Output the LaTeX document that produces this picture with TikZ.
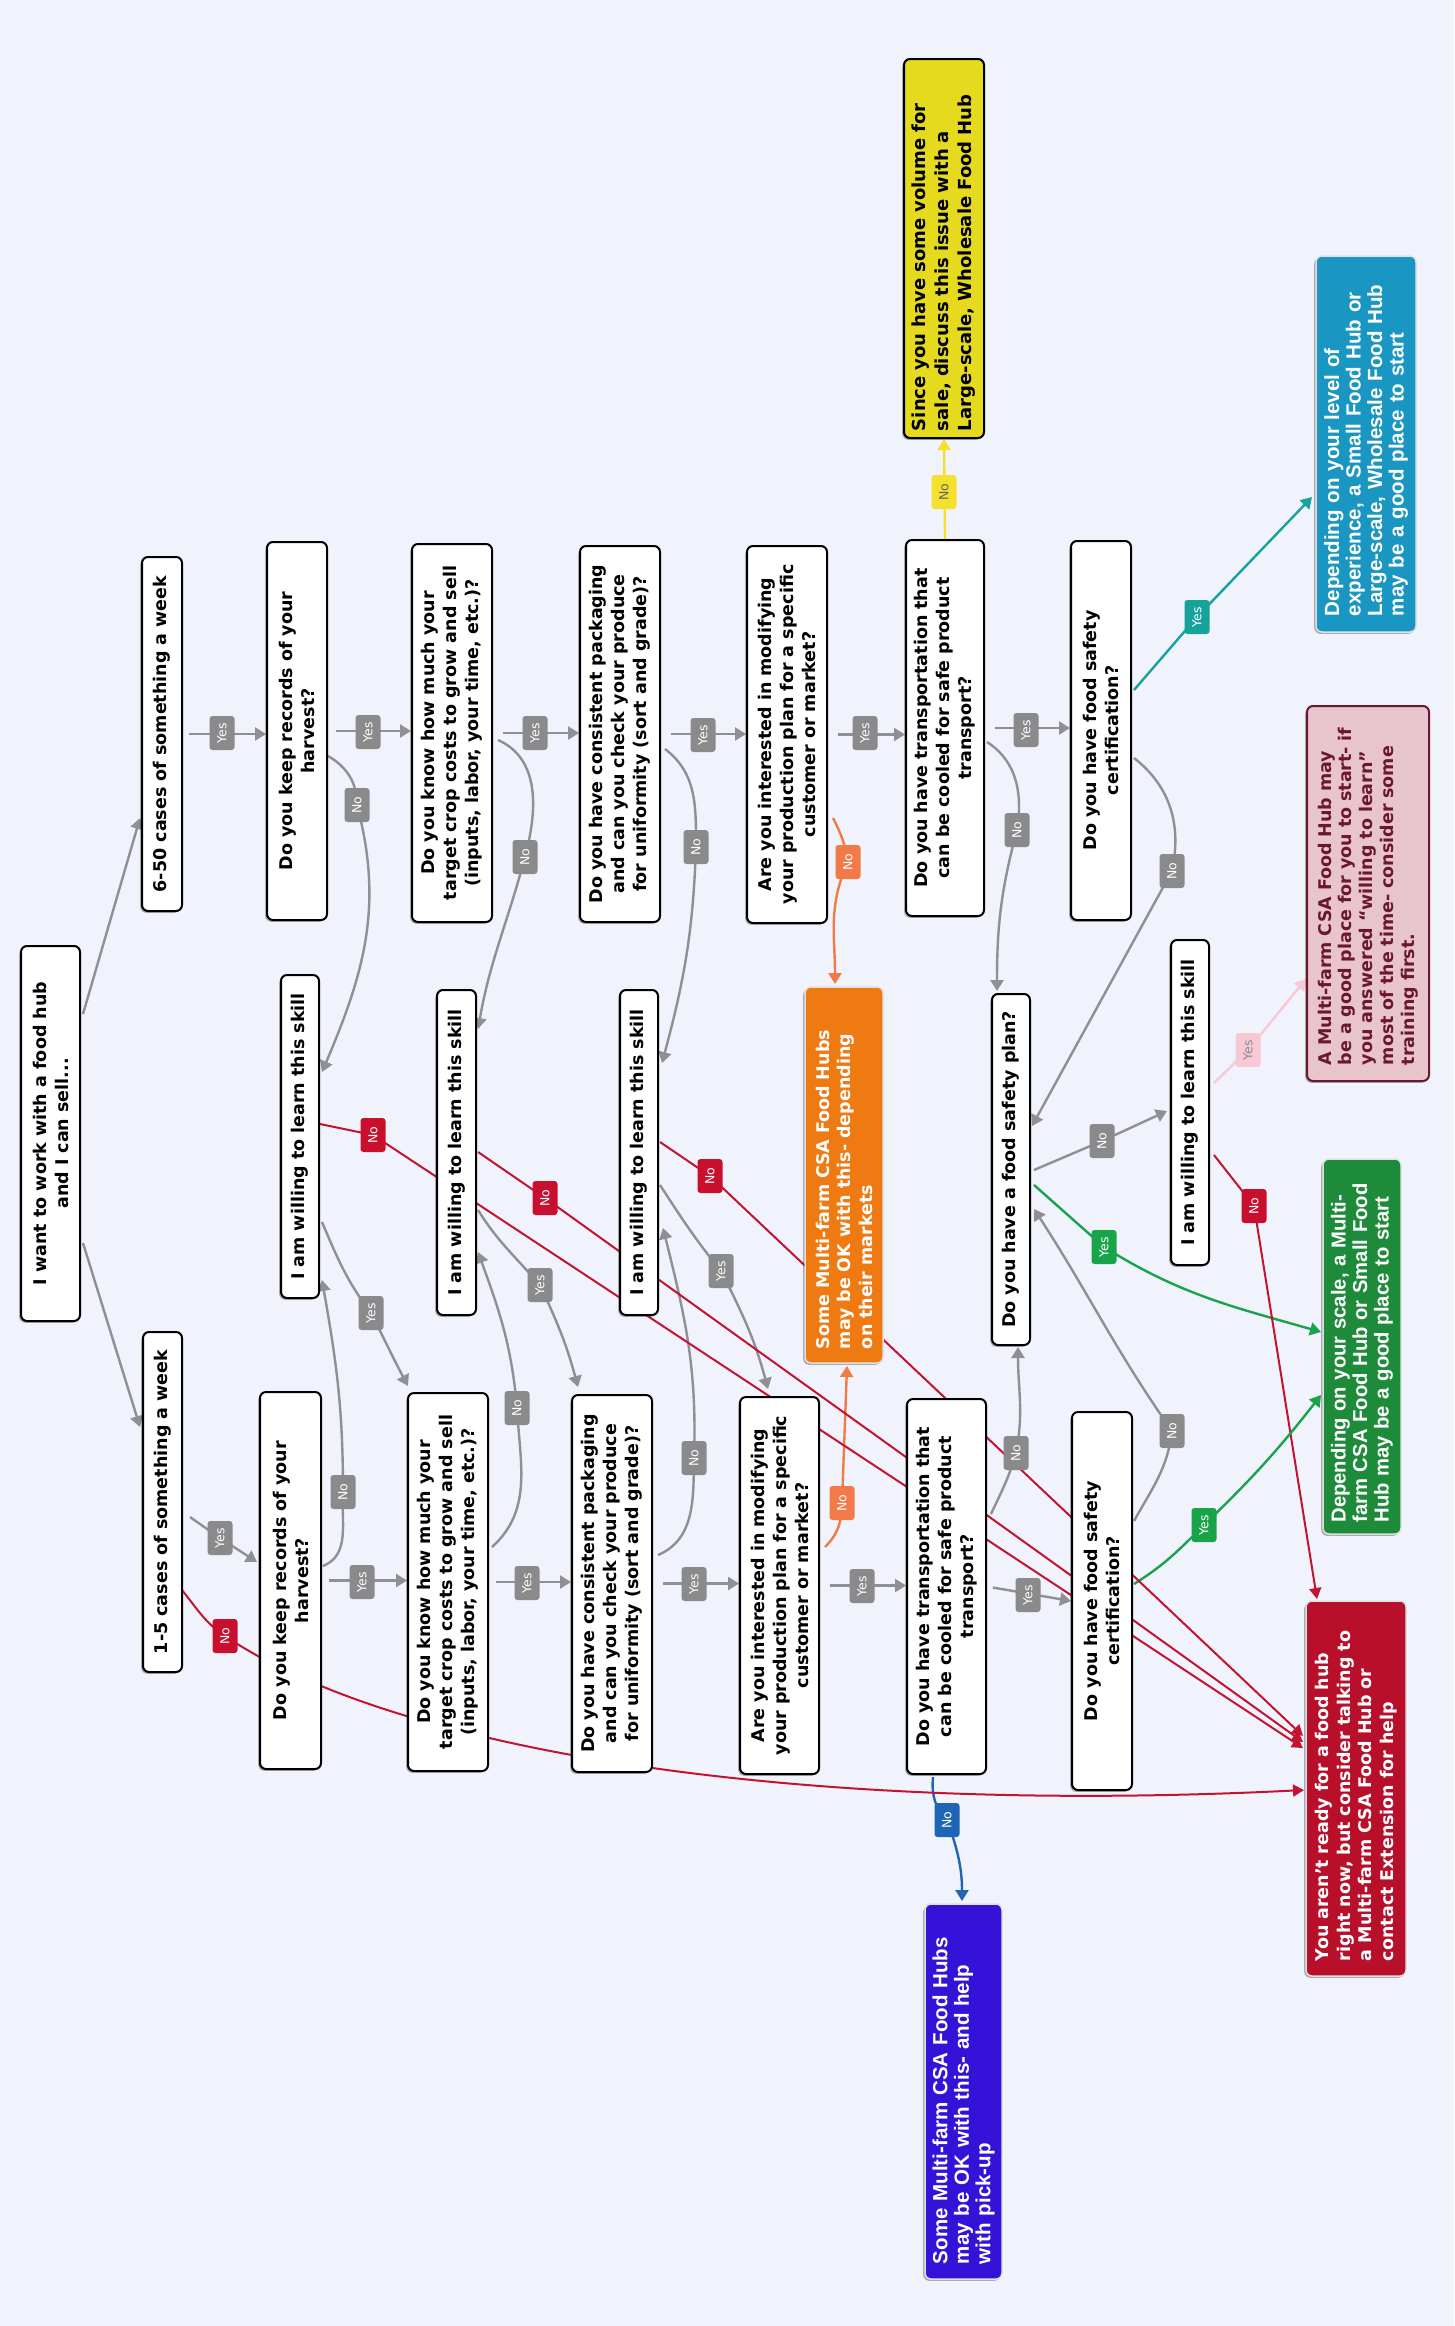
\documentclass[tikz,border=0pt]{standalone}
\usepackage{fontspec}
\usetikzlibrary{arrows.meta,shadows}
\newfontfamily\dvs{DejaVu Sans}
\newfontfamily\lis{Liberation Sans}
\definecolor{cbg}{HTML}{F0F3FC}
\definecolor{cgline}{HTML}{8F8F94}
\definecolor{cglab}{HTML}{8A8A8C}
\definecolor{crline}{HTML}{C41331}
\definecolor{crlab}{HTML}{C8102E}
\definecolor{crbox}{HTML}{B80F2A}
\definecolor{cobox}{HTML}{F07A12}
\definecolor{coline}{HTML}{F27A48}
\definecolor{cybox}{HTML}{E6DA1F}
\definecolor{cyline}{HTML}{F3E12E}
\definecolor{ctline}{HTML}{16A39B}
\definecolor{cbbox}{HTML}{1996C1}
\definecolor{cpbox}{HTML}{E8C5CD}
\definecolor{cpdark}{HTML}{6B1733}
\definecolor{cpline}{HTML}{F8C8D4}
\definecolor{cgbox}{HTML}{1E8B3B}
\definecolor{cgrline}{HTML}{19A34B}
\definecolor{cbline}{HTML}{1F65B6}
\definecolor{cvbox}{HTML}{3412D8}
\pgfdeclarelayer{bgfill}
\pgfdeclarelayer{edges}
\pgfdeclarelayer{labels}
\pgfsetlayers{bgfill,edges,labels,main}
\tikzset{
  boxbase/.style={rotate=90, rounded corners=6pt, inner sep=0pt, line width=2pt,
    drop shadow={shadow xshift=-1.8pt, shadow yshift=-1.8pt, opacity=0.3, fill=black}},
  qbox/.style={boxbase, draw=black, fill=white, align=center, font=\dvs\bfseries\fontsize{17.5}{22}\selectfont},
  outbox/.style={boxbase, draw=black!12, line width=1.5pt, align=left, text=white},
  vfont/.style={font=\dvs\bfseries\fontsize{17.5}{21.5}\selectfont},
  afont/.style={font=\lis\bfseries\fontsize{20.5}{21.5}\selectfont},
  labbase/.style={rotate=90, rounded corners=3pt, inner sep=0pt, minimum width=34pt, minimum height=25pt, font=\dvs\fontsize{12.5}{13}\selectfont, text=white},
  labG/.style={labbase, fill=cglab},
  labR/.style={labbase, fill=crlab},
  labO/.style={labbase, fill=coline},
  labY/.style={labbase, fill=cyline, text=black!60},
  labT/.style={labbase, fill=ctline},
  labGr/.style={labbase, fill=cgrline},
  labP/.style={labbase, fill=cpline, text=black!45},
  labB/.style={labbase, fill=cbline},
  gedge/.style={draw=cgline, line width=2.4pt, -{Triangle[length=11pt,width=13pt]}},
  redge/.style={draw=crline, line width=2pt, -{Triangle[length=11pt,width=12pt]}},
  oedge/.style={draw=coline, line width=2.4pt, -{Triangle[length=11pt,width=13pt]}},
  yedge/.style={draw=cyline, line width=2.4pt, -{Triangle[length=11pt,width=13pt]}},
  tedge/.style={draw=ctline, line width=2.4pt, -{Triangle[length=11pt,width=13pt]}},
  gredge/.style={draw=cgrline, line width=2.4pt, -{Triangle[length=11pt,width=13pt]}},
  pedge/.style={draw=cpline, line width=2.4pt, -{Triangle[length=11pt,width=13pt]}},
  bedge/.style={draw=cbline, line width=2.4pt, -{Triangle[length=11pt,width=13pt]}},
}
\begin{document}
\begin{tikzpicture}[x=1pt,y=1pt]
\useasboundingbox (0,0) rectangle (1454,-2326);
\begin{pgfonlayer}{bgfill}
\fill[cbg] (0,0) rectangle (1454,-2326);
\end{pgfonlayer}

% ---------- question nodes ----------
\node[qbox, minimum width=375pt, minimum height=59pt] (root) at (50.5,-1133.5) {I want to work with a food hub\\and I can sell...};
\node[qbox, minimum width=354pt, minimum height=40pt] (c650) at (162,-734) {6-50 cases of something a week};
\node[qbox, minimum width=340pt, minimum height=39pt] (c15) at (162.5,-1502) {1-5 cases of something a week};

\node[qbox, minimum width=378pt, minimum height=60pt] (recA) at (297,-731) {Do you keep records of your\\harvest?};
\node[qbox, minimum width=378pt, minimum height=80pt] (costA) at (452,-733) {Do you know how much your\\target crop costs to grow and sell\\(inputs, labor, your time, etc.)?};
\node[qbox, minimum width=376pt, minimum height=80pt] (packA) at (620,-734) {Do you have consistent packaging\\and can you check your produce\\for uniformity (sort and grade)?};
\node[qbox, minimum width=377pt, minimum height=80pt] (modA) at (787,-734.5) {Are you interested in modifying\\your production plan for a specific\\customer or market?};
\node[qbox, minimum width=376pt, minimum height=78pt] (transA) at (945,-728) {Do you have transportation that\\can be cooled for safe product\\transport?};
\node[qbox, minimum width=379pt, minimum height=60pt] (certA) at (1101,-730.5) {Do you have food safety\\certification?};

\node[qbox, minimum width=323pt, minimum height=38pt] (willing1) at (300,-1136.5) {I am willing to learn this skill};
\node[qbox, minimum width=325pt, minimum height=39pt] (willing2) at (456.5,-1152.5) {I am willing to learn this skill};
\node[qbox, minimum width=325pt, minimum height=38pt] (willing3) at (639,-1152.5) {I am willing to learn this skill};
\node[qbox, minimum width=351pt, minimum height=38pt] (foodplan) at (1011,-1169.5) {Do you have a food safety plan?};
\node[qbox, minimum width=325pt, minimum height=38pt] (willing4) at (1190,-1102.5) {I am willing to learn this skill};

\node[qbox, minimum width=377pt, minimum height=61pt] (recB) at (290.5,-1580.5) {Do you keep records of your\\harvest?};
\node[qbox, minimum width=378pt, minimum height=80pt] (costB) at (448,-1582) {Do you know how much your\\target crop costs to grow and sell\\(inputs, labor, your time, etc.)?};
\node[qbox, minimum width=377pt, minimum height=80pt] (packB) at (612,-1583.5) {Do you have consistent packaging\\and can you check your produce\\for uniformity (sort and grade)?};
\node[qbox, minimum width=377pt, minimum height=79pt] (modB) at (779.5,-1585.5) {Are you interested in modifying\\your production plan for a specific\\customer or market?};
\node[qbox, minimum width=375pt, minimum height=79pt] (transB) at (946.5,-1586.5) {Do you have transportation that\\can be cooled for safe product\\transport?};
\node[qbox, minimum width=378pt, minimum height=60pt] (certB) at (1102,-1601) {Do you have food safety\\certification?};

% ---------- outcome nodes ----------
\node[outbox, fill=cybox, draw=black, line width=2pt, text=black, minimum width=379pt, minimum height=80pt, text width=365pt, font=\dvs\bfseries\fontsize{18}{23}\selectfont] (yellow) at (944,-248.5) {Since you have some volume for\\sale, discuss this issue with a\\Large-scale, Wholesale Food Hub};
\node[outbox, afont, fill=cbbox, minimum width=376pt, minimum height=100pt, text width=344pt] (blue) at (1366,-444) {Depending on your level of\\experience, a Small Food Hub or\\Large-scale, Wholesale Food Hub\\may be a good place to start};
\node[outbox, fill=cpbox, draw=cpdark, line width=2pt, text=cpdark, minimum width=375pt, minimum height=122pt, text width=343pt, font=\dvs\bfseries\fontsize{17.5}{20.8}\selectfont] (pink) at (1368,-893.5) {A Multi-farm CSA Food Hub may\\be a good place for you to start- if\\you answered “willing to learn”\\most of the time- consider some\\training first.};
\node[outbox, fill=cgbox, minimum width=375pt, minimum height=78pt, text width=352pt, font=\lis\bfseries\fontsize{20.2}{21.5}\selectfont] (green) at (1362,-1346.5) {Depending on your scale, a Multi-\\farm CSA Food Hub or Small Food\\Hub may be a good place to start};
\node[outbox, vfont, fill=crbox, minimum width=375pt, minimum height=100pt, text width=345pt] (red) at (1356,-1788.5) {You aren’t ready for a food hub\\right now, but consider talking to\\a Multi-farm CSA Food Hub or\\contact Extension for help};
\node[outbox, vfont, fill=cobox, minimum width=376pt, minimum height=78pt, text width=348pt] (orange) at (844,-1175) {Some Multi-farm CSA Food Hubs\\may be OK with this- depending\\on their markets};
\node[outbox, afont, fill=cvbox, minimum width=375pt, minimum height=77pt, text width=345pt] (purple) at (963.5,-2091.5) {Some Multi-farm CSA Food Hubs\\may be OK with this- and help\\with pick-up};

% ---------- labels ----------
\begin{pgfonlayer}{labels}
\node[labG] (y1) at (222,-733) {Yes};
\node[labG] (y2) at (368,-732) {Yes};
\node[labG] (y3) at (535,-733) {Yes};
\node[labG] (y4) at (703,-735) {Yes};
\node[labG] (y5) at (865,-733) {Yes};
\node[labG] (y6) at (1026,-730) {Yes};
\node[labG] (y7) at (220,-1538) {Yes};
\node[labG] (y8) at (371,-1313) {Yes};
\node[labG] (y9) at (540,-1285) {Yes};
\node[labG] (y10) at (721,-1271) {Yes};
\node[labG] (y11) at (362,-1582) {Yes};
\node[labG] (y12) at (527,-1583) {Yes};
\node[labG] (y13) at (694,-1584) {Yes};
\node[labG] (y14) at (862,-1586) {Yes};
\node[labG] (y15) at (1028,-1595) {Yes};
\node[labG] (n1) at (357,-805) {No};
\node[labG] (n2) at (525,-857) {No};
\node[labG] (n3) at (696,-847) {No};
\node[labG] (n4) at (1017,-830) {No};
\node[labG] (n5) at (1172,-871) {No};
\node[labG] (n6) at (1102,-1141) {No};
\node[labG] (n7) at (1016,-1453) {No};
\node[labG] (n8) at (1172,-1431) {No};
\node[labG] (n9) at (343,-1492) {No};
\node[labG] (n10) at (517,-1408) {No};
\node[labG] (n11) at (694,-1458) {No};
\node[labR] (r1) at (373,-1135) {No};
\node[labR] (r2) at (545,-1198) {No};
\node[labR] (r3) at (710,-1176) {No};
\node[labR] (r4) at (1254,-1206) {No};
\node[labR] (r5) at (225,-1636) {No};
\node[labO] (o1) at (848,-862) {No};
\node[labO] (o2) at (842,-1503) {No};
\node[labY] (yl) at (944,-492) {No};
\node[labT] (t1) at (1197,-617) {Yes};
\node[labGr] (g1) at (1104,-1247) {Yes};
\node[labGr] (g2) at (1204,-1525) {Yes};
\node[labP] (p1) at (1248,-1050) {Yes};
\node[labB] (b1) at (947,-1820) {No};
\end{pgfonlayer}

% ---------- connectors ----------
\begin{pgfonlayer}{edges}
% root
\draw[gedge] ([shift={(32.5,119.5)}]root.center) -- ([shift={(-22,-84)}]c650.center);
\draw[gedge] ([shift={(32.5,-109.5)}]root.center) -- ([shift={(-22.5,75)}]c15.center);
% yes chain top
\draw[gedge, shorten <=6pt] (c650.south) -- (c650.south -| recA.north);
\draw[gedge, shorten <=8pt] (recA.south) -- (recA.south -| costA.north);
\draw[gedge, shorten <=10pt] (costA.south) -- (costA.south -| packA.north);
\draw[gedge, shorten <=10pt] (packA.south) -- (packA.south -| modA.north);
\draw[gedge, shorten <=10pt] (modA.south) -- (modA.south -| transA.north);
\draw[gedge, shorten <=10pt] (transA.south) -- (transA.south -| certA.north);
% yes chain bottom
\draw[gedge, shorten <=7pt] (recB.south) -- (recB.south -| costB.north);
\draw[gedge, shorten <=7pt] (costB.south) -- (costB.south -| packB.north);
\draw[gedge, shorten <=10pt] (packB.south) -- (packB.south -| modB.north);
\draw[gedge, shorten <=10pt] (modB.south) -- (modB.south -| transB.north);
\draw[gedge, shorten <=6pt] (transB.south) -- (certB.north);
\draw[gedge] ([shift={(27.5,-15)}]c15.center) -- (y7.center) -- ([shift={(-33.5,18.5)}]recB.center);
% outcomes top
\draw[yedge] (transA.east) -- (yellow.west);
\draw[tedge] ([shift={(33,40.5)}]certA.center) -- (t1.center) -- ([shift={(-54,-53)}]blue.center);
% no branches top row
\draw[gedge] ([shift={(31,-25)}]recA.center) to[out=-30,in=90] (n1.center) to[out=-75,in=67] ([shift={(22,64.5)}]willing1.center);
\draw[gedge] ([shift={(46,-7)}]costA.center) to[out=-24,in=75] (n2.center) to[out=-105,in=80] ([shift={(21.5,123.5)}]willing2.center);
\draw[gedge] ([shift={(45,-15)}]packA.center) to[out=-37,in=90] (n3.center) to[out=-92,in=75] ([shift={(23,89.5)}]willing3.center);
\draw[oedge] ([shift={(46,-83.5)}]modA.center) to[out=-63,in=99] (o1.center) to[out=-115,in=90] ([shift={(-9,191)}]orange.center);
\draw[gedge] ([shift={(42,-14)}]transA.center) to[out=-33,in=81] (n4.center) to[out=-105,in=90] ([shift={(-14,178.5)}]foodplan.center);
\draw[gedge] ([shift={(33,-27.5)}]certA.center) to[out=-38,in=78] (n5.center) -- ([shift={(21,43.5)}]foodplan.center);
% food safety plan
\draw[gedge] ([shift={(23,-0.5)}]foodplan.center) -- (n6.center) -- ([shift={(-23,-8.5)}]willing4.center);
\draw[gredge] ([shift={(23,-15.5)}]foodplan.center) -- (g1.center) to[out=-32,in=164] ([shift={(-41,14.5)}]green.center);
\draw[pedge] ([shift={(24,19.5)}]willing4.center) -- (p1.center) -- ([shift={(-62,-85.5)}]pink.center);
\draw[redge] ([shift={(24,-52.5)}]willing4.center) -- (r4.center) -- ([shift={(-39,189.5)}]red.center);
% bottom row
\draw[gedge] ([shift={(32.5,14.5)}]recB.center) to[out=22,in=-94] (n9.center) to[out=90,in=-80] ([shift={(22,-143.5)}]willing1.center);
\draw[gedge] ([shift={(22,-85.5)}]willing1.center) to[out=-67,in=127] (y8.center) to[out=-63,in=118] ([shift={(-40,196)}]costB.center);
\draw[gedge] ([shift={(44,35)}]costB.center) to[out=42,in=-87] (n10.center) to[out=95,in=-70] ([shift={(21.5,-99.5)}]willing2.center);
\draw[gedge] ([shift={(21.5,-57.5)}]willing2.center) to[out=-58,in=131] (y9.center) to[out=-65,in=105] ([shift={(-34,196.5)}]packB.center);
\draw[gedge] ([shift={(46,28.5)}]packB.center) to[out=23,in=-91] (n11.center) to[out=88,in=-76] ([shift={(24,-75.5)}]willing3.center);
\draw[gedge] ([shift={(21,-32.5)}]willing3.center) to[out=-57,in=129] (y10.center) to[out=-63,in=105] ([shift={(-11.5,196.5)}]modB.center);
\draw[oedge] ([shift={(45.5,38.5)}]modB.center) to[out=45,in=-90] (o2.center) -- ([shift={(3,-191)}]orange.center);
\draw[gedge] ([shift={(44.5,72.5)}]transB.center) to[out=65,in=-106] (n7.center) to[out=79,in=-90] ([shift={(7,-177.5)}]foodplan.center);
\draw[gedge] ([shift={(32,80)}]certB.center) to[out=61,in=-97] (n8.center) to[out=125,in=-57] ([shift={(23,-39.5)}]foodplan.center);
\draw[gredge] ([shift={(32,17)}]certB.center) to[out=32,in=-135] (g2.center) to[out=44,in=-128] ([shift={(-41,-48.5)}]green.center);
\draw[bedge] ([shift={(-13.5,-190.5)}]transB.center) to[out=-95,in=135] (b1.center) to[out=-70,in=90] ([shift={(-1.5,190.5)}]purple.center);
% red "No" lines
\draw[redge] ([shift={(20,12.5)}]willing1.center) -- (r1.center) -- ([shift={(-53,40.5)}]red.center);
\draw[redge] ([shift={(21.5,0.5)}]willing2.center) -- (r2.center) -- ([shift={(-53,46.5)}]red.center);
\draw[redge] ([shift={(21,10.5)}]willing3.center) -- (r3.center) -- ([shift={(-53,52.5)}]red.center);
\draw[redge] ([shift={(19.5,-88)}]c15.center) to[out=-51,in=146] (r5.center) .. controls (399,-1753) and (804,-1815) .. ([shift={(-52,-1.5)}]red.center);
\end{pgfonlayer}
\end{tikzpicture}
\end{document}
